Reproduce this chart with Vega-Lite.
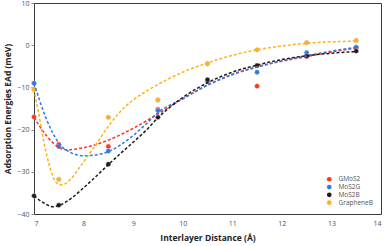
{
  "$schema": "https://vega.github.io/schema/vega-lite/v6.json",
  "width": 347,
  "height": 211,
  "autosize": {"type": "none"},
  "padding": {"left": 34, "top": 3, "right": 6, "bottom": 32},
  "background": "white",
  "config": {
    "view": {"stroke": "#3a3a3a", "strokeWidth": 1},
    "font": "Open Sans",
    "axis": {"labelFont": "Open Sans", "titleFont": "Open Sans"}
  },
  "datasets": {
    "points": [
      {"series": "GMoS2", "x": 7, "y": -17},
      {"series": "GMoS2", "x": 7.5, "y": -23.5},
      {"series": "GMoS2", "x": 8.5, "y": -24},
      {"series": "GMoS2", "x": 9.5, "y": -15.2},
      {"series": "GMoS2", "x": 10.5, "y": -8.4},
      {"series": "GMoS2", "x": 11.5, "y": -9.7},
      {"series": "GMoS2", "x": 12.5, "y": -2.7},
      {"series": "GMoS2", "x": 13.5, "y": -0.6},
      {"series": "MoS2G", "x": 7, "y": -9},
      {"series": "MoS2G", "x": 7.5, "y": -24},
      {"series": "MoS2G", "x": 8.5, "y": -25.1},
      {"series": "MoS2G", "x": 9.5, "y": -15.5},
      {"series": "MoS2G", "x": 10.5, "y": -8.6},
      {"series": "MoS2G", "x": 11.5, "y": -6.4},
      {"series": "MoS2G", "x": 12.5, "y": -1.8},
      {"series": "MoS2G", "x": 13.5, "y": -0.5},
      {"series": "MoS2B", "x": 7, "y": -35.7},
      {"series": "MoS2B", "x": 7.5, "y": -37.9},
      {"series": "MoS2B", "x": 8.5, "y": -28.2},
      {"series": "MoS2B", "x": 9.5, "y": -17.1},
      {"series": "MoS2B", "x": 10.5, "y": -8.2},
      {"series": "MoS2B", "x": 11.5, "y": -4.8},
      {"series": "MoS2B", "x": 12.5, "y": -2.6},
      {"series": "MoS2B", "x": 13.5, "y": -1.4},
      {"series": "GrapheneB", "x": 7, "y": -10.5},
      {"series": "GrapheneB", "x": 7.5, "y": -31.8},
      {"series": "GrapheneB", "x": 8.5, "y": -17.1},
      {"series": "GrapheneB", "x": 9.5, "y": -13},
      {"series": "GrapheneB", "x": 10.5, "y": -4.4},
      {"series": "GrapheneB", "x": 11.5, "y": -1.1},
      {"series": "GrapheneB", "x": 12.5, "y": 0.6},
      {"series": "GrapheneB", "x": 13.5, "y": 1.1}
    ],
    "curves": [
      {"series": "GMoS2", "x": 7, "y": -17.1},
      {"series": "GMoS2", "x": 7.25, "y": -21.4},
      {"series": "GMoS2", "x": 7.5, "y": -24.2},
      {"series": "GMoS2", "x": 7.66, "y": -24.8},
      {"series": "GMoS2", "x": 8, "y": -24.3},
      {"series": "GMoS2", "x": 8.5, "y": -22.5},
      {"series": "GMoS2", "x": 9, "y": -19.7},
      {"series": "GMoS2", "x": 9.5, "y": -16.3},
      {"series": "GMoS2", "x": 10, "y": -12.7},
      {"series": "GMoS2", "x": 10.5, "y": -9.4},
      {"series": "GMoS2", "x": 11, "y": -6.9},
      {"series": "GMoS2", "x": 11.5, "y": -5.1},
      {"series": "GMoS2", "x": 12, "y": -3.8},
      {"series": "GMoS2", "x": 12.5, "y": -2.7},
      {"series": "GMoS2", "x": 13, "y": -1.6},
      {"series": "GMoS2", "x": 13.5, "y": -0.7},
      {"series": "MoS2G", "x": 7, "y": -9},
      {"series": "MoS2G", "x": 7.25, "y": -17.5},
      {"series": "MoS2G", "x": 7.5, "y": -23.2},
      {"series": "MoS2G", "x": 7.75, "y": -25.5},
      {"series": "MoS2G", "x": 8, "y": -26.2},
      {"series": "MoS2G", "x": 8.25, "y": -26},
      {"series": "MoS2G", "x": 8.5, "y": -25.2},
      {"series": "MoS2G", "x": 8.75, "y": -23.6},
      {"series": "MoS2G", "x": 9, "y": -21.4},
      {"series": "MoS2G", "x": 9.25, "y": -18.8},
      {"series": "MoS2G", "x": 9.5, "y": -16},
      {"series": "MoS2G", "x": 10, "y": -12.7},
      {"series": "MoS2G", "x": 10.5, "y": -9.5},
      {"series": "MoS2G", "x": 11, "y": -7},
      {"series": "MoS2G", "x": 11.5, "y": -5.2},
      {"series": "MoS2G", "x": 12, "y": -3.7},
      {"series": "MoS2G", "x": 12.5, "y": -2.5},
      {"series": "MoS2G", "x": 13, "y": -1.4},
      {"series": "MoS2G", "x": 13.5, "y": -0.5},
      {"series": "MoS2B", "x": 7, "y": -35.7},
      {"series": "MoS2B", "x": 7.2, "y": -37.4},
      {"series": "MoS2B", "x": 7.39, "y": -38.3},
      {"series": "MoS2B", "x": 7.5, "y": -38},
      {"series": "MoS2B", "x": 7.75, "y": -36.3},
      {"series": "MoS2B", "x": 8, "y": -33.8},
      {"series": "MoS2B", "x": 8.25, "y": -31.1},
      {"series": "MoS2B", "x": 8.5, "y": -28.3},
      {"series": "MoS2B", "x": 8.75, "y": -25.6},
      {"series": "MoS2B", "x": 9, "y": -23},
      {"series": "MoS2B", "x": 9.25, "y": -20.3},
      {"series": "MoS2B", "x": 9.5, "y": -17.2},
      {"series": "MoS2B", "x": 10, "y": -12.4},
      {"series": "MoS2B", "x": 10.5, "y": -8.9},
      {"series": "MoS2B", "x": 11, "y": -6.4},
      {"series": "MoS2B", "x": 11.5, "y": -4.7},
      {"series": "MoS2B", "x": 12, "y": -3.4},
      {"series": "MoS2B", "x": 12.5, "y": -2.5},
      {"series": "MoS2B", "x": 13, "y": -1.9},
      {"series": "MoS2B", "x": 13.5, "y": -1.5},
      {"series": "GrapheneB", "x": 7, "y": -10.5},
      {"series": "GrapheneB", "x": 7.1, "y": -16.5},
      {"series": "GrapheneB", "x": 7.2, "y": -23},
      {"series": "GrapheneB", "x": 7.35, "y": -30},
      {"series": "GrapheneB", "x": 7.45, "y": -32.6},
      {"series": "GrapheneB", "x": 7.56, "y": -33.1},
      {"series": "GrapheneB", "x": 7.75, "y": -31.6},
      {"series": "GrapheneB", "x": 7.93, "y": -28.8},
      {"series": "GrapheneB", "x": 8.25, "y": -23.5},
      {"series": "GrapheneB", "x": 8.5, "y": -19.2},
      {"series": "GrapheneB", "x": 8.75, "y": -15.6},
      {"series": "GrapheneB", "x": 9, "y": -13},
      {"series": "GrapheneB", "x": 9.25, "y": -11},
      {"series": "GrapheneB", "x": 9.5, "y": -9.3},
      {"series": "GrapheneB", "x": 10, "y": -6.4},
      {"series": "GrapheneB", "x": 10.5, "y": -4.2},
      {"series": "GrapheneB", "x": 11, "y": -2.4},
      {"series": "GrapheneB", "x": 11.5, "y": -1.1},
      {"series": "GrapheneB", "x": 12, "y": -0.2},
      {"series": "GrapheneB", "x": 12.5, "y": 0.45},
      {"series": "GrapheneB", "x": 13, "y": 0.8},
      {"series": "GrapheneB", "x": 13.5, "y": 1}
    ]
  },
  "layer": [
    {
      "mark": {"type": "rule", "color": "#c9d5de", "strokeWidth": 1.2},
      "encoding": {"y": {"datum": 0, "type": "quantitative"}}
    },
    {
      "data": {"name": "points"},
      "mark": {"type": "point", "filled": true, "size": 24, "opacity": 1, "stroke": "#c8ccd2", "strokeWidth": 0.5},
      "encoding": {
        "x": {
          "field": "x", "type": "quantitative",
          "scale": {"domain": [7, 14], "nice": false, "zero": false},
          "axis": {
            "title": "Interlayer Distance (Å)", "values": [7, 8, 9, 10, 11, 12, 13, 14],
            "domain": false, "ticks": false, "grid": false, "labelFontSize": 7, "labelColor": "#44546a",
            "labelPadding": 5, "titleFontSize": 8.5, "titleFontWeight": "bold", "titleColor": "#222",
            "titlePadding": 7
          }
        },
        "y": {
          "field": "y", "type": "quantitative",
          "scale": {"domain": [-40, 10], "nice": false, "zero": false},
          "axis": {
            "title": "Adsorption Energies EAd (meV)", "values": [-40, -35, -30, -25, -20, -15, -10, -5, 0, 5, 10],
            "domain": false, "grid": false, "tickSize": 3, "tickColor": "#888", "labelFontSize": 7, "labelColor": "#44546a",
            "labelPadding": 2, "titleFontSize": 8.5, "titleFontWeight": "bold", "titleColor": "#222",
            "titlePadding": 4
          }
        },
        "color": {
          "field": "series", "type": "nominal",
          "scale": {"domain": ["GMoS2", "MoS2G", "MoS2B", "GrapheneB"], "range": ["#ff3320", "#2f78ea", "#1c1c1c", "#ffb01a"]},
          "legend": {
            "title": null, "orient": "none", "legendX": 292, "legendY": 173,
            "labelFontSize": 6.5, "labelColor": "#555", "symbolSize": 22, "symbolType": "circle",
            "symbolStrokeWidth": 0, "rowPadding": 0.8, "labelOffset": 6
          }
        }
      }
    },
    {
      "data": {"name": "curves"},
      "mark": {"type": "line", "strokeDash": [3, 2], "strokeWidth": 1.5, "interpolate": "monotone"},
      "encoding": {
        "x": {"field": "x", "type": "quantitative"},
        "y": {"field": "y", "type": "quantitative"},
        "color": {"field": "series", "type": "nominal", "legend": null}
      }
    }
  ]
}
